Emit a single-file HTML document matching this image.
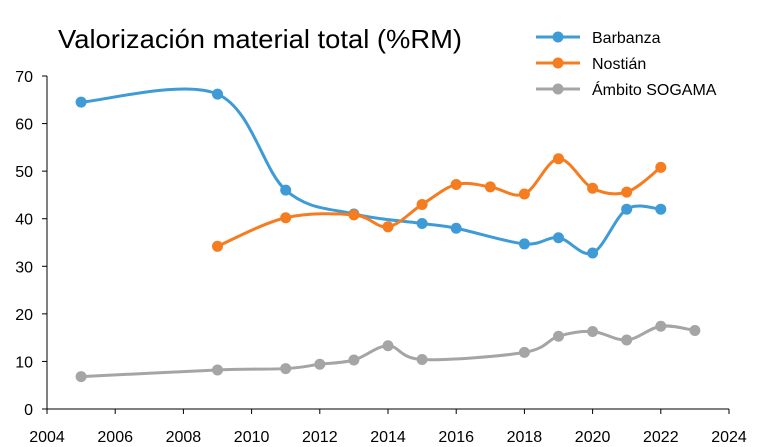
<!DOCTYPE html>
<html><head><meta charset="utf-8"><style>
body{margin:0;background:#fff;}
svg{display:block;font-family:"Liberation Sans",sans-serif;}
</style></head><body>
<svg id="chart" width="769" height="447">
<text x="58" y="48" font-size="26" textLength="404" lengthAdjust="spacingAndGlyphs" fill="#000">Valorización material total (%RM)</text>
<g id="axes"></g><g id="series"></g><g id="legend"></g>
</svg>
<script>
const years=[2004,2006,2008,2010,2012,2014,2016,2018,2020,2022,2024];
const yTicks=[0,10,20,30,40,50,60,70];
const barbanzaX=[2005,2009,2011,2013,2015,2016,2018,2019,2020,2021,2022];
const barbanzaY=[64.5,66.2,46,41,39,38,34.7,36,32.8,42,42];
const nostianX=[2009,2011,2013,2014,2015,2016,2017,2018,2019,2020,2021,2022];
const nostianY=[34.2,40.2,40.8,38.3,43,47.2,46.7,45.2,52.6,46.4,45.6,50.8];
const sogamaX=[2005,2009,2011,2012,2013,2014,2015,2018,2019,2020,2021,2022,2023];
const sogamaY=[6.8,8.2,8.5,9.4,10.3,13.3,10.4,11.9,15.3,16.3,14.5,17.4,16.5];
const seriesNames=["Barbanza","Nostián","Ámbito SOGAMA"];
const NS="http://www.w3.org/2000/svg";
const X=v=>47+(v-2004)*(729-47)/20;
const Y=v=>409-v*(409-76)/70;
function mk(t,a,p){const e=document.createElementNS(NS,t);for(const k in a)e.setAttribute(k,a[k]);p.appendChild(e);return e;}
const ax=document.getElementById('axes');
let l=mk('line',{x1:X(2004),x2:X(2024),y1:Y(0),y2:Y(0),stroke:'#000','stroke-width':1},ax);


l=mk('line',{x1:X(2004),x2:X(2004),y1:Y(0),y2:Y(70),stroke:'#000','stroke-width':1},ax);


years.forEach(v=>{
  mk('line',{x1:X(v),x2:X(v),y1:Y(0),y2:Y(0)+5,stroke:'#000'},ax);
  const t=mk('text',{x:X(v),y:442,'text-anchor':'middle','font-size':16},ax);t.textContent=v;
  
  
});
yTicks.forEach(v=>{
  mk('line',{x1:X(2004)-5,x2:X(2004),y1:Y(v),y2:Y(v),stroke:'#000'},ax);
  const t=mk('text',{x:33,y:Y(v)+6,'text-anchor':'end','font-size':16},ax);t.textContent=v;
  
  
});
function smooth(pts){
  let d=`M${pts[0][0]},${pts[0][1]}`;
  for(let i=0;i<pts.length-1;i++){
    const p0=pts[i-1]||pts[i],p1=pts[i],p2=pts[i+1],p3=pts[i+2]||p2;
    const c1=[p1[0]+(p2[0]-p0[0])/6,p1[1]+(p2[1]-p0[1])/6];
    const c2=[p2[0]-(p3[0]-p1[0])/6,p2[1]-(p3[1]-p1[1])/6];
    d+=` C${c1[0]},${c1[1]} ${c2[0]},${c2[1]} ${p2[0]},${p2[1]}`;
  }
  return d;
}
const sg=document.getElementById('series');
const lg=document.getElementById('legend');
[[barbanzaX,barbanzaY,'#3e9bd6','barbanza'],[nostianX,nostianY,'#f57c1f','nostian'],[sogamaX,sogamaY,'#a5a5a5','sogama']].forEach((s,i)=>{
  const pts=s[0].map((x,j)=>[X(x),Y(s[1][j])]);
  const p=mk('path',{d:smooth(pts),fill:'none',stroke:s[2],'stroke-width':3},sg);
  
  
  pts.forEach(q=>{
    const c=mk('circle',{cx:q[0],cy:q[1],r:5.5,fill:s[2]},sg);
    
    
  });
  const ly=37+i*26;
  mk('line',{x1:536,x2:580,y1:ly,y2:ly,stroke:s[2],'stroke-width':3},lg);
  mk('circle',{cx:558,cy:ly,r:5.5,fill:s[2]},lg);
  const t=mk('text',{x:592,y:ly+6,'font-size':16},lg);t.textContent=seriesNames[i];
  
  
});
</script>
</body></html>
